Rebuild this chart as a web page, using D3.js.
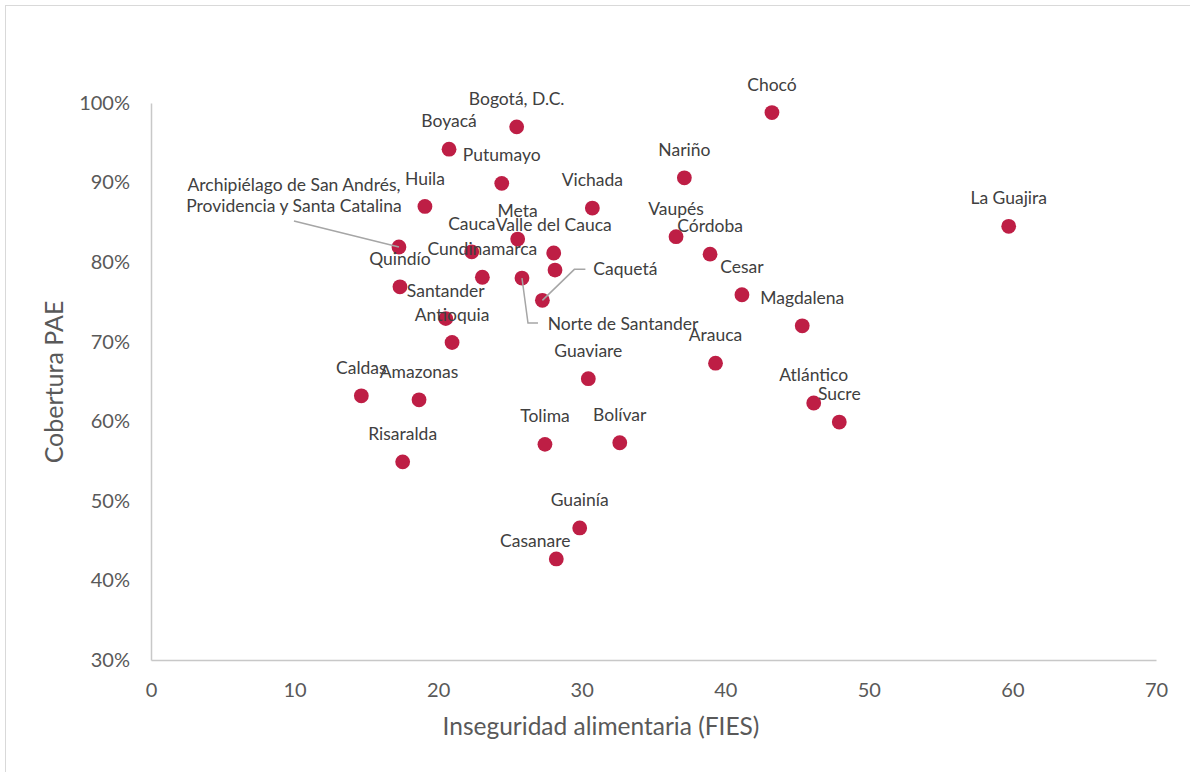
<!DOCTYPE html>
<html>
<head>
<meta charset="utf-8">
<script src="https://cdn.jsdelivr.net/npm/d3@7"></script>
<style>
  body { margin: 0; background: #fff; }
  text { font-family: Lato, "Open Sans", sans-serif; }
</style>
</head>
<body>
<script>
var w = 1190;
var h = 772;

// departamentos (el último punto no tiene etiqueta en el original)
var names = ['Chocó', 'La Guajira', 'Bogotá, D.C.', 'Boyacá', 'Putumayo', 'Nariño', 'Huila', 'Vichada',
  'Archipiélago de San Andrés,\nProvidencia y Santa Catalina', 'Meta', 'Vaupés', 'Cauca', 'Valle del Cauca',
  'Córdoba', 'Cundinamarca', 'Norte de Santander', 'Quindío', 'Caquetá', 'Cesar', 'Santander',
  'Magdalena', 'Antioquia', 'Arauca', 'Guaviare', 'Caldas', 'Amazonas', 'Atlántico', 'Sucre',
  'Tolima', 'Bolívar', 'Risaralda', 'Guainía', 'Casanare', ''];
var fies = [43.25, 59.74, 25.47, 20.76, 24.43, 37.15, 19.08, 30.74,
  17.27, 25.54, 36.57, 22.34, 28.05,
  38.94, 23.08, 25.84, 17.34, 27.26, 41.16, 20.53,
  45.36, 20.97, 39.32, 30.46, 14.65, 18.67, 46.16, 47.94,
  27.44, 32.65, 17.53, 29.86, 28.23, 28.14];
var pae = [98.8, 84.5, 97.0, 94.2, 89.9, 90.6, 87.0, 86.8,
  81.9, 82.9, 83.2, 81.3, 81.15,
  81.0, 78.1, 78.0, 76.9, 75.2, 75.9, 72.9,
  72.0, 69.9, 67.3, 65.35, 63.2, 62.7, 62.3, 59.9,
  57.1, 57.3, 54.9, 46.6, 42.7, 79.0];
var xTicks = [0, 10, 20, 30, 40, 50, 60, 70];
var yTicks = [0.3, 0.4, 0.5, 0.6, 0.7, 0.8, 0.9, 1.0];

// etiquetas movidas a mano (desplazamientos en px respecto al punto)
var labelMoves = {
  'Archipiélago de San Andrés,\nProvidencia y Santa Catalina': { dx: -105, dy: -62, leader: [[-105, -26]] },
  'Caquetá': { dx: 83, dy: -31, leader: [[43, -31], [32, -31]] },
  'Norte de Santander': { dx: 101, dy: 46, leader: [[16, 45], [6, 45]] },
  'Casanare': { dx: -21, dy: -18 }
};

var data = names.map(function (n, i) {
  return { name: n, x: fies[i], y: pae[i] / 100 };
});

var svg = d3.select('body')
  .append('svg')
  .attr('width', w)
  .attr('height', h);

svg.append('rect')
  .attr('x', 5.5)
  .attr('y', 5.5)
  .attr('width', w + 20)
  .attr('height', h + 20)
  .attr('fill', '#fff')
  .attr('stroke', '#d9d9d9');

var x = d3.scaleLinear().domain([0, 70]).range([151, 1156]);
var y = d3.scaleLinear().domain([0.3, 1.0]).range([660, 103]);

var xAxis = svg.append('g')
  .attr('transform', 'translate(0,660)')
  .call(d3.axisBottom(x).tickValues(xTicks).tickSize(0).tickSizeOuter(0).tickPadding(23));
var yAxis = svg.append('g')
  .attr('transform', 'translate(151,0)')
  .call(d3.axisLeft(y).tickValues(yTicks).tickFormat(d3.format('.0%')).tickSize(0).tickSizeOuter(0).tickPadding(21));

[xAxis, yAxis].forEach(function (a) {
  a.select('.domain').attr('stroke', '#c8c8c8').attr('stroke-width', 1.5);
  a.selectAll('text')
    .attr('fill', '#595959')
    .style('font-size', '20px');
});

svg.append('text')
  .attr('x', 601)
  .attr('y', 726)
  .attr('dy', '0.35em')
  .attr('text-anchor', 'middle')
  .attr('fill', '#595959')
  .style('font-size', '24.5px')
  .text('Inseguridad alimentaria (FIES)');

svg.append('text')
  .attr('transform', 'translate(54,382) rotate(-90)')
  .attr('dy', '0.35em')
  .attr('text-anchor', 'middle')
  .attr('fill', '#595959')
  .style('font-size', '25px')
  .text('Cobertura PAE');

var g = svg.append('g');

g.selectAll('circle')
  .data(data)
  .enter()
  .append('circle')
  .attr('cx', function (d) { return x(d.x); })
  .attr('cy', function (d) { return y(d.y); })
  .attr('r', 7.4)
  .attr('fill', '#be1e45');

// líneas guía
data.forEach(function (d) {
  var m = labelMoves[d.name];
  if (!m || !m.leader) return;
  var px = x(d.x), py = y(d.y);
  var pts = m.leader.map(function (p) { return [px + p[0], py + p[1]]; });
  pts.push([px, py]);
  g.append('path')
    .attr('d', d3.line()(pts))
    .attr('fill', 'none')
    .attr('stroke', '#a6a6a6')
    .attr('stroke-width', 1.5);
});

var labels = g.selectAll('.lbl')
  .data(data.filter(function (d) { return d.name !== ''; }))
  .enter()
  .append('text')
  .attr('class', 'lbl')
  .attr('text-anchor', 'middle')
  .attr('fill', '#404040')
  .style('font-size', '17.5px')
  .attr('transform', function (d) {
    var m = labelMoves[d.name] || { dx: 0, dy: -28 };
    return 'translate(' + (x(d.x) + m.dx) + ',' + (y(d.y) + m.dy) + ')';
  });

labels.each(function (d) {
  var lines = d.name.split('\n');
  var t = d3.select(this);
  lines.forEach(function (l, i) {
    t.append('tspan')
      .attr('x', 0)
      .attr('y', i * 21)
      .attr('dy', '0.35em')
      .text(l);
  });
});
</script>
</body>
</html>
